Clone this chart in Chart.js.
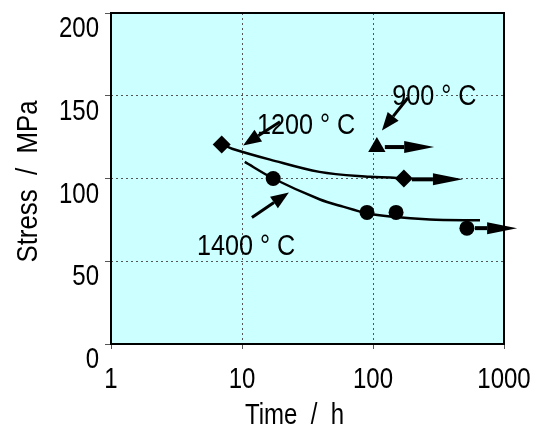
<!DOCTYPE html>
<html>
<head>
<meta charset="utf-8">
<script src="https://cdn.jsdelivr.net/npm/chart.js@4"></script>
<style>
  html, body { margin: 0; padding: 0; background: #ffffff; }
  #wrap { width: 545px; height: 425px; }
</style>
</head>
<body>
<div id="wrap"><canvas id="chart" width="545" height="425"></canvas></div>
<script>
const FONT = '30px "Liberation Sans", Arial, sans-serif';
const SQUEEZE = 0.8; // la fuente del original es estrecha

// ── Datos ──
const timeTicks   = [1, 10, 100, 1000];
const stressTicks = [0, 50, 100, 150, 200];

// puntos medidos
const diamondTime    = [7.0, 172];
const diamondStress  = [120.5, 100];
const triangleTime   = [107];
const triangleStress = [119];
const circleTime     = [17.3, 90, 150, 521];
const circleStress   = [100, 79.5, 79.5, 70];

// curvas ajustadas
const curve1200Time   = [7.4, 8.4, 16.4, 39, 95, 135, 172];
const curve1200Stress = [120, 118, 111.4, 104, 101, 100.6, 100];
const curve1400Time   = [10.5, 17.3, 39.4, 59, 90, 135, 272, 656];
const curve1400Stress = [110, 100, 87.3, 83, 79, 77, 75.3, 74.7];

// flechas de ensayo sin rotura
const runoutFrom   = [107, 172, 521];
const runoutTo     = [293, 486, 1260];
const runoutStress = [119, 99.5, 70];

// etiquetas (esquina inferior izquierda) y flechas indicadoras
const labelText    = ['1200 ° C', '900 ° C', '1400 ° C'];
const labelTime    = [13.0, 140, 4.53];
const labelStress  = [126.9, 144.4, 53.8];
const pointerFromT = [19.5, 185, 11.9];
const pointerFromS = [134.3, 148.8, 76.5];
const pointerToT   = [10.2, 117, 22.8];
const pointerToS   = [120, 129, 91.6];

const xTitle = 'Time  /  h';
const yTitle = 'Stress  /  MPa';

const zip = (xs, ys) => xs.map((x, i) => ({ x, y: ys[i] }));

// ── Texto estrecho ──
function narrowText(ctx, s, x, y, align, rotate, squeeze = SQUEEZE) {
    ctx.save();
    ctx.translate(x, y);
    if (rotate) ctx.rotate(-Math.PI / 2);
    ctx.scale(squeeze, 1);
    ctx.font = FONT;
    ctx.fillStyle = '#000';
    ctx.textAlign = align;
    ctx.textBaseline = 'alphabetic';
    ctx.fillText(s, 0, 0);
    ctx.restore();
}

// ── Flechas ──
function drawArrow(ctx, x1, y1, x2, y2, shaft, headLen, headHalf) {
    const a = Math.atan2(y2 - y1, x2 - x1);
    const bx = x2 - Math.cos(a) * headLen;
    const by = y2 - Math.sin(a) * headLen;
    ctx.lineWidth = shaft;
    ctx.beginPath();
    ctx.moveTo(x1, y1);
    ctx.lineTo(bx, by);
    ctx.stroke();
    ctx.beginPath();
    ctx.moveTo(x2, y2);
    ctx.lineTo(bx - Math.sin(a) * headHalf, by + Math.cos(a) * headHalf);
    ctx.lineTo(bx + Math.sin(a) * headHalf, by - Math.cos(a) * headHalf);
    ctx.closePath();
    ctx.fill();
}

const bgPlugin = {
    id: 'plotBg',
    beforeDraw(chart) {
        const { ctx, chartArea: a } = chart;
        ctx.save();
        ctx.fillStyle = '#ccffff';
        ctx.fillRect(a.left, a.top, a.right - a.left, a.bottom - a.top);
        ctx.restore();
    },
    afterDraw(chart) {
        const { ctx, chartArea: a, scales: { x, y } } = chart;
        ctx.save();
        ctx.strokeStyle = '#000';
        ctx.lineWidth = 2;
        ctx.strokeRect(a.left, a.top, a.right - a.left, a.bottom - a.top);
        ctx.restore();

        // etiquetas de los ejes
        stressTicks.forEach(v => narrowText(ctx, String(v), a.left - 12, y.getPixelForValue(v) + 24, 'right'));
        timeTicks.forEach(v => narrowText(ctx, String(v), x.getPixelForValue(v), a.bottom + 44, 'center'));
        narrowText(ctx, xTitle, (a.left + a.right) / 2 - 13, a.bottom + 80, 'center');
        narrowText(ctx, yTitle, 37, (a.top + a.bottom) / 2 + 3, 'center', true, 0.86);
    }
};

const arrowPlugin = {
    id: 'arrows',
    afterDatasetsDraw(chart) {
        const { ctx, scales: { x, y } } = chart;
        ctx.save();
        ctx.strokeStyle = '#000';
        ctx.fillStyle = '#000';
        ctx.lineCap = 'butt';
        runoutFrom.forEach((t, i) => {
            const py = y.getPixelForValue(runoutStress[i]);
            drawArrow(ctx, x.getPixelForValue(t) + 8, py, x.getPixelForValue(runoutTo[i]), py, 4, 30, 6);
        });
        pointerFromT.forEach((t, i) => {
            drawArrow(ctx,
                x.getPixelForValue(t), y.getPixelForValue(pointerFromS[i]),
                x.getPixelForValue(pointerToT[i]), y.getPixelForValue(pointerToS[i]),
                3, 18, 7);
        });
        ctx.restore();
        labelText.forEach((s, i) => {
            narrowText(ctx, s, x.getPixelForValue(labelTime[i]), y.getPixelForValue(labelStress[i]), 'left', false, 0.84);
        });
    }
};

const pointStyle = (style, r) => ({
    showLine: false,
    pointStyle: style,
    pointRadius: r,
    pointHoverRadius: r,
    backgroundColor: '#000',
    borderColor: '#000',
    borderWidth: 0,
});

new Chart(document.getElementById('chart'), {
    type: 'scatter',
    data: {
        datasets: [
            { data: zip(curve1200Time, curve1200Stress), showLine: true, borderColor: '#000', borderWidth: 2.5, pointRadius: 0, tension: 0.35 },
            { data: zip(curve1400Time, curve1400Stress), showLine: true, borderColor: '#000', borderWidth: 2.5, pointRadius: 0, tension: 0.3 },
            { data: zip(diamondTime, diamondStress), ...pointStyle('rectRot', 9) },
            { data: zip(triangleTime, triangleStress), ...pointStyle('triangle', 10) },
            { data: zip(circleTime, circleStress), ...pointStyle('circle', 7.5) },
        ]
    },
    options: {
        responsive: false,
        animation: false,
        events: [],
        layout: { padding: { left: 0, right: 41, top: 13, bottom: 0 } },
        plugins: { legend: { display: false }, tooltip: { enabled: false } },
        scales: {
            x: {
                type: 'logarithmic',
                min: 1,
                max: 1000,
                afterBuildTicks: s => { s.ticks = timeTicks.map(v => ({ value: v })); },
                afterFit: s => { s.height = 81; },
                border: { display: false, dash: [2, 3] },
                grid: { color: '#555', lineWidth: 1, tickLength: 5 },
                ticks: { display: false }
            },
            y: {
                min: 0,
                max: 200,
                afterBuildTicks: s => { s.ticks = stressTicks.map(v => ({ value: v })); },
                afterFit: s => { s.width = 111; },
                border: { display: false, dash: [2, 3] },
                grid: { color: '#555', lineWidth: 1, tickLength: 6 },
                ticks: { display: false }
            }
        }
    },
    plugins: [bgPlugin, arrowPlugin]
});
</script>
</body>
</html>
